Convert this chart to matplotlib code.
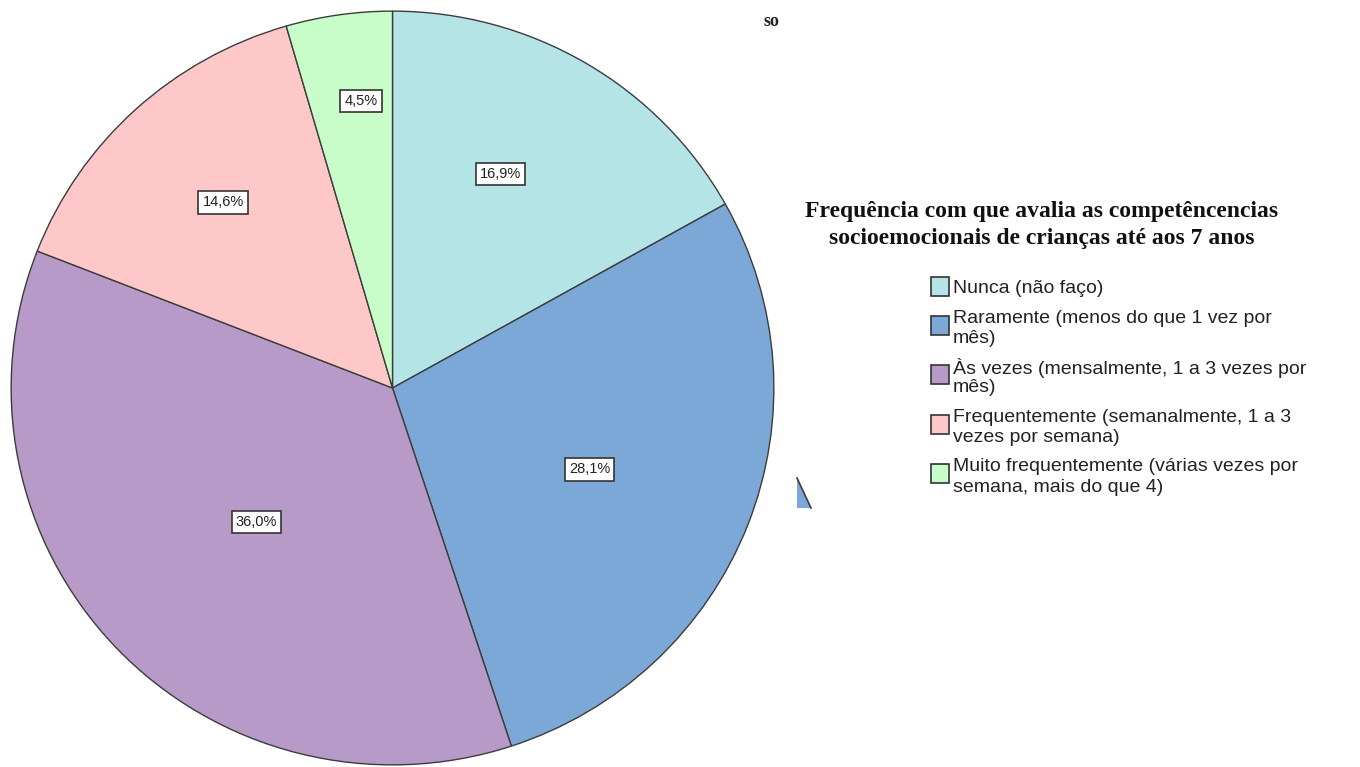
import numpy as np
import matplotlib.pyplot as plt
from matplotlib.patches import Rectangle, Polygon
from matplotlib.lines import Line2D

# dados: frequência de avaliação (%)
categorias = [
    'Nunca (não faço)',
    'Raramente (menos do que 1 vez por\nmês)',
    'Às vezes (mensalmente, 1 a 3 vezes por\nmês)',
    'Frequentemente (semanalmente, 1 a 3\nvezes por semana)',
    'Muito frequentemente (várias vezes por\nsemana, mais do que 4)',
]
percentagens = [16.9, 28.1, 36.0, 14.6, 4.5]
cores = ['#b4e4e6', '#7ba8d6', '#b79ac8', '#fec8c8', '#c8fcc8']
titulo = ('Frequência com que avalia as competêncencias\n'
          'socioemocionais de crianças até aos 7 anos')

# posição das etiquetas: distância ao centro e desvio angular (graus)
raio_etiqueta = [0.634, 0.56, 0.504, 0.663, 0.765]
desvio_etiqueta = [3.8, -1.4, 1.5, -0.4, -1.9]

W, H = 1360, 767
fig = plt.figure(figsize=(W / 100, H / 100), dpi=100)


def caixa(x0, y0, x1, y1):
    return [x0 / W, 1 - y1 / H, (x1 - x0) / W, (y1 - y0) / H]


def fx(x):
    return x / W


def fy(y):
    return 1 - y / H


ax = fig.add_axes(caixa(10, 10, 775, 766))
wedges, _ = ax.pie(percentagens, colors=cores, startangle=90, counterclock=False,
                   wedgeprops=dict(edgecolor='#3c3c3c', linewidth=1.0))
ax.set_aspect('auto')
ax.set_xlim(-1.003, 1.003)
ax.set_ylim(-1.003, 1.003)
ax.axis('off')

for w, p, r, d in zip(wedges, percentagens, raio_etiqueta, desvio_etiqueta):
    ang = np.deg2rad((w.theta1 + w.theta2) / 2 + d)
    ax.text(r * np.cos(ang), r * np.sin(ang), f'{p:.1f}%'.replace('.', ','),
            ha='center', va='center', fontsize=10.5, family='Liberation Sans',
            color='#222222',
            bbox=dict(boxstyle='square,pad=0.28', fc='white', ec='#333333', lw=1.2))

# título da legenda
fig.text(fx(1042), fy(225), titulo, ha='center', va='center', fontsize=17,
         family='Liberation Serif', fontweight='bold', linespacing=1.38,
         color='#111111')

# legenda
y = 289
for cat, cor in zip(categorias, cores):
    linhas = cat.split('\n')
    meio = y + (len(linhas) - 1) * 20.5 / 2
    fig.patches.append(Rectangle((fx(931), fy(meio - 3 + 9.5)), 18 / W, 19 / H,
                                 transform=fig.transFigure, fc=cor,
                                 ec='#333333', lw=1.2))
    for k, ln in enumerate(linhas):
        fig.text(fx(953), fy(y + k * 20.5), ln, ha='left', va='center',
                 fontsize=14, family='Liberation Sans', color='#222222')
    y += (len(linhas) - 1) * 20.5 + 29

# fragmento de outro gráfico
fig.text(fx(763), fy(22), 'so', ha='left', va='center', fontsize=13,
         family='Liberation Serif', fontweight='bold', color='#222222')
fig.patches.append(Polygon([(fx(797), fy(478)), (fx(797), fy(508)), (fx(811), fy(508))],
                           closed=True, transform=fig.transFigure,
                           fc='#7ba8d6', ec='none'))
fig.lines.append(Line2D([fx(797), fx(811)], [fy(478), fy(508)],
                        transform=fig.transFigure, color='#3c3c3c', lw=1.2))

fig.savefig('out.png', dpi=100)
